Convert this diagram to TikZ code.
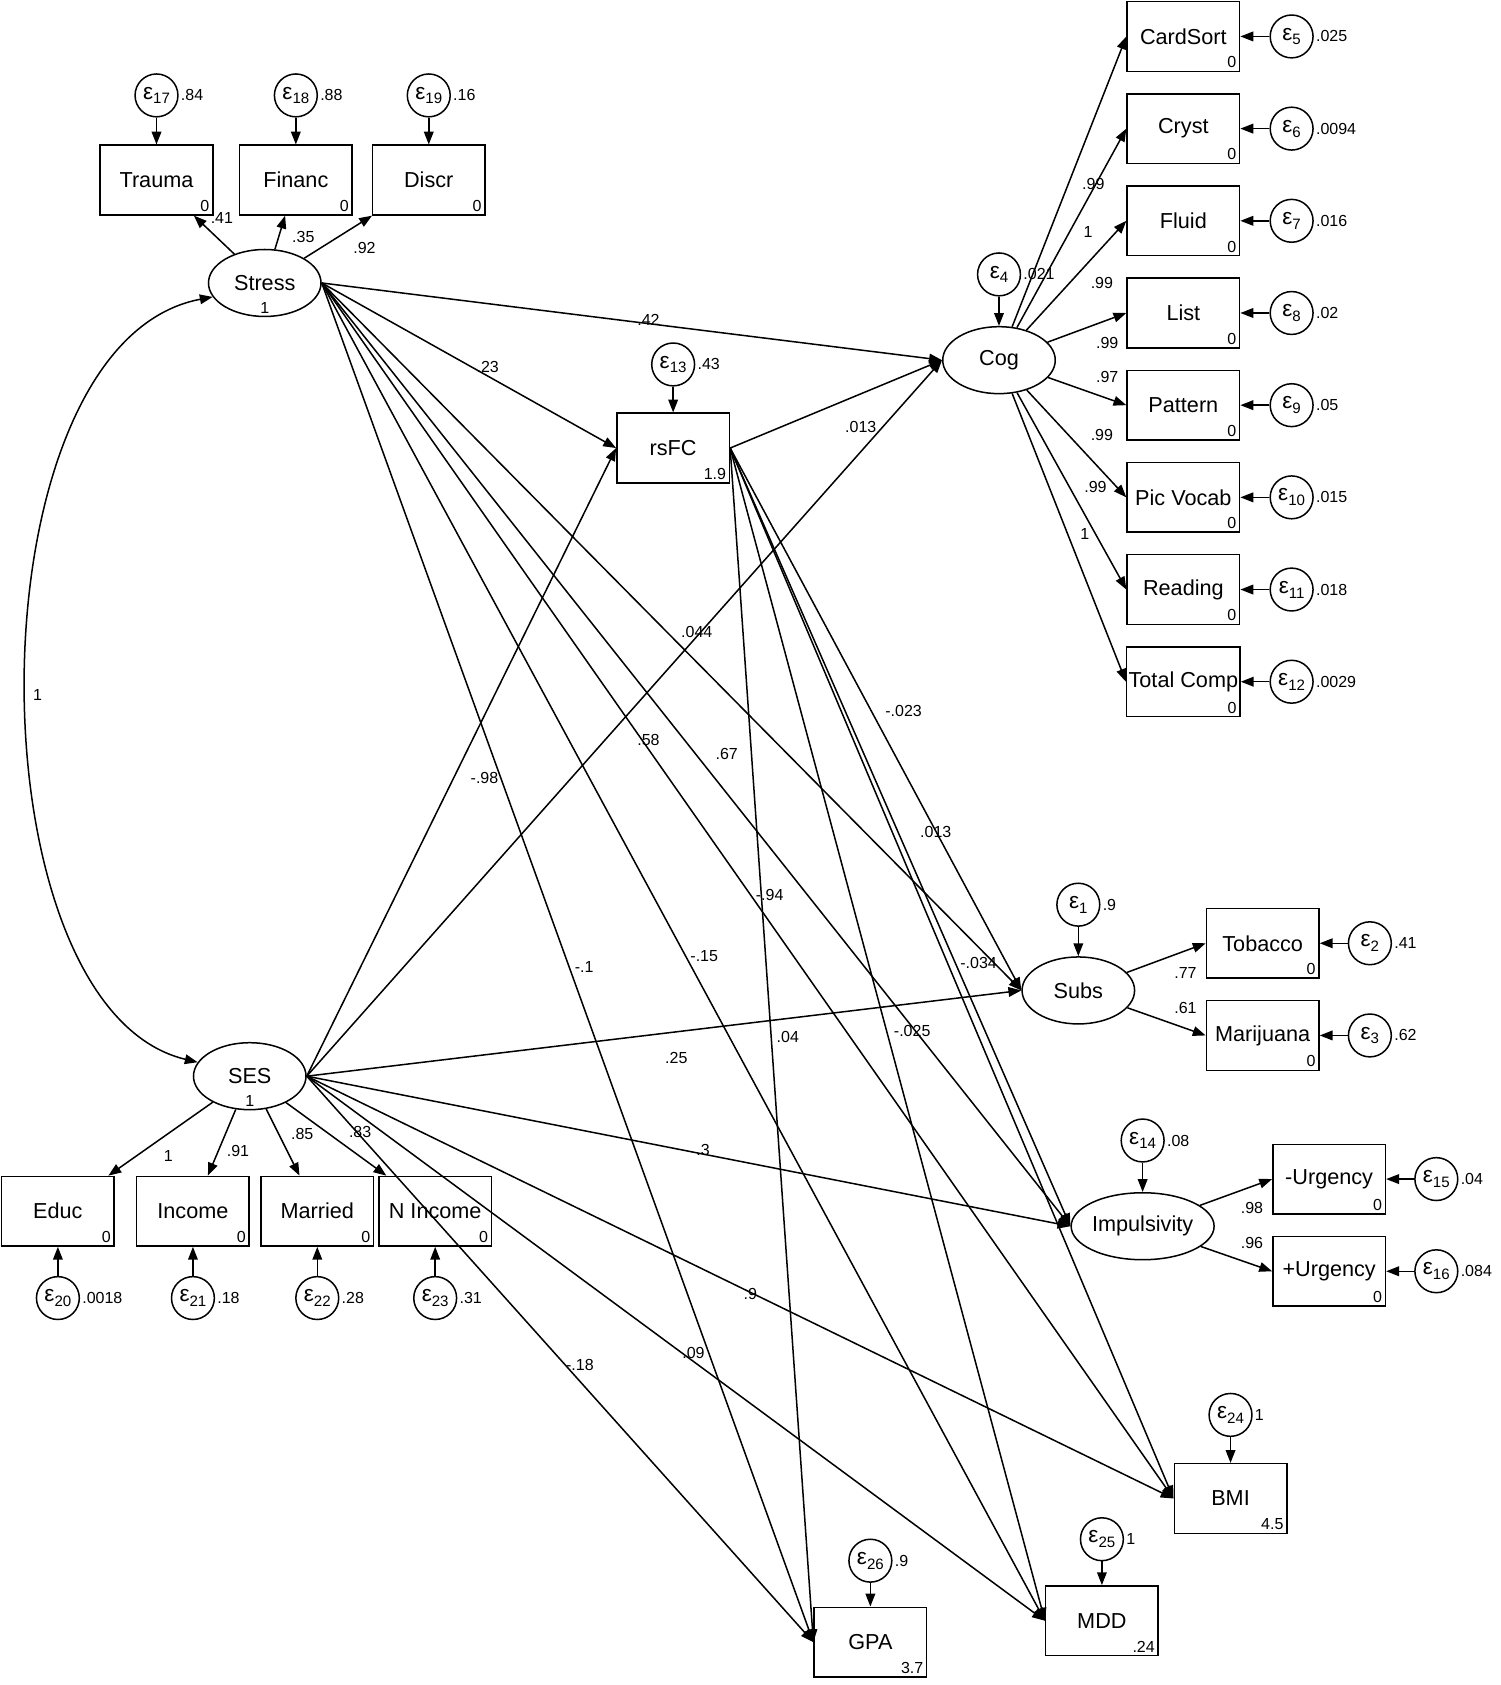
\documentclass[tikz,border=0pt]{standalone}
\usepackage{fontspec}
\setmainfont{Liberation Sans}
\usetikzlibrary{shapes.geometric, arrows.meta, positioning}
\newcommand{\eps}[1]{ε\raisebox{-0.4ex}{\fontsize{8}{8}\selectfont #1}}

\begin{document}
\begin{tikzpicture}[x=0.02cm, y=-0.02cm,
    obs/.style={rectangle, draw, thick, minimum width=2.1cm, minimum height=1.3cm, font=\fontsize{11.5}{13}\selectfont, inner sep=1pt},
    lat/.style={ellipse, draw, thick, minimum width=2.1cm, minimum height=1.25cm, font=\fontsize{11.5}{13}\selectfont, inner sep=0pt},
    errc/.style={circle, draw, thick, minimum size=0.8cm, inner sep=0pt, font=\fontsize{12}{12}\selectfont},
    icpt/.style={font=\fontsize{8.5}{9}\selectfont, inner sep=2pt},
    val/.style={font=\fontsize{8.5}{9}\selectfont, inner sep=1pt},
    path/.style={-{Triangle[length=2.4mm,width=1.8mm]}, thick}
]
\useasboundingbox (0,0) rectangle (1400,1572);

% Latent variables
\node[lat] (stress) at (247,264) {Stress};
\node[icpt, anchor=south] at (stress.south) {1};
\node[lat] (ses) at (233,1004) {SES};
\node[icpt, anchor=south] at (ses.south) {1};
\node[lat] (cog) at (932,336) {Cog};
\node[lat] (subs) at (1006,924) {Subs};
\node[lat] (imp) at (1066,1144) {Impulsivity};

% Cognition indicators
\foreach \nm/\txt/\yy/\idx/\vv in {cardsort/CardSort/34/5/.025, cryst/Cryst/120/6/.0094,
    fluid/Fluid/206/7/.016, list/List/292/8/.02, pattern/Pattern/378/9/.05,
    picvocab/Pic Vocab/464/10/.015, reading/Reading/550/11/.018, totalcomp/Total Comp/636/12/.0029} {
  \node[obs] (\nm) at (1104,\yy) {\txt};
  \node[icpt, anchor=south east] at (\nm.south east) {0};
  \node[errc, label={[val]east:\vv}] (e\idx) at (1205,\yy) {\eps{\idx}};
  \draw[path] (e\idx) -- (\nm);
  \draw[path] (cog) -- (\nm.west);
}
\node[errc, label={[val]east:.021}] (e4) at (932,256) {\eps{4}};
\draw[path] (e4) -- (cog);

% Stress indicators
\foreach \nm/\txt/\xx/\idx/\vv in {trauma/Trauma/146/17/.84, financ/Financ/276/18/.88, discr/Discr/400/19/.16} {
  \node[obs] (\nm) at (\xx,168) {\txt};
  \node[icpt, anchor=south east] at (\nm.south east) {0};
  \node[errc, label={[val]east:\vv}] (e\idx) at (\xx,89) {\eps{\idx}};
  \draw[path] (e\idx) -- (\nm);
  \draw[path] (stress) -- (\nm);
}

% SES indicators
\foreach \nm/\txt/\xx/\idx/\vv in {educ/Educ/54/20/.0018, income/Income/180/21/.18, married/Married/296/22/.28, nincome/N Income/406/23/.31} {
  \node[obs] (\nm) at (\xx,1130) {\txt};
  \node[icpt, anchor=south east] at (\nm.south east) {0};
  \node[errc, label={[val]east:\vv}] (e\idx) at (\xx,1211) {\eps{\idx}};
  \draw[path] (e\idx) -- (\nm);
  \draw[path] (ses) -- (\nm);
}

% rsFC
\node[obs] (rsfc) at (628,418) {rsFC};
\node[icpt, anchor=south east] at (rsfc.south east) {1.9};
\node[errc, label={[val]east:.43}] (e13) at (628,340) {\eps{13}};
\draw[path] (e13) -- (rsfc);

% Substance use
\node[errc, label={[val]east:.9}] (e1) at (1006,844) {\eps{1}};
\draw[path] (e1) -- (subs);
\foreach \nm/\txt/\yy/\idx/\vv in {tobacco/Tobacco/880/2/.41, marijuana/Marijuana/966/3/.62} {
  \node[obs] (\nm) at (1178,\yy) {\txt};
  \node[icpt, anchor=south east] at (\nm.south east) {0};
  \node[errc, label={[val]east:\vv}] (e\idx) at (1278,\yy) {\eps{\idx}};
  \draw[path] (e\idx) -- (\nm);
  \draw[path] (subs) -- (\nm.west);
}

% Impulsivity
\node[errc, label={[val]east:.08}] (e14) at (1066,1064) {\eps{14}};
\draw[path] (e14) -- (imp);
\foreach \nm/\txt/\yy/\idx/\vv in {negurg/-Urgency/1100/15/.04, posurg/+Urgency/1186/16/.084} {
  \node[obs] (\nm) at (1240,\yy) {\txt};
  \node[icpt, anchor=south east] at (\nm.south east) {0};
  \node[errc, label={[val]east:\vv}] (e\idx) at (1340,\yy) {\eps{\idx}};
  \draw[path] (e\idx) -- (\nm);
  \draw[path] (imp) -- (\nm.west);
}

% Outcomes
\node[obs] (bmi) at (1148,1398) {BMI};
\node[icpt, anchor=south east] at (bmi.south east) {4.5};
\node[errc, label={[val]east:1}] (e24) at (1148,1320) {\eps{24}};
\draw[path] (e24) -- (bmi);
\node[obs] (mdd) at (1028,1512) {MDD};
\node[icpt, anchor=south east] at (mdd.south east) {.24};
\node[errc, label={[val]east:1}] (e25) at (1028,1436) {\eps{25}};
\draw[path] (e25) -- (mdd);
\node[obs] (gpa) at (812,1532) {GPA};
\node[icpt, anchor=south east] at (gpa.south east) {3.7};
\node[errc, label={[val]east:.9}] (e26) at (812,1456) {\eps{26}};
\draw[path] (e26) -- (gpa);

% Structural paths
\draw[{Triangle[length=2.4mm,width=1.8mm]}-{Triangle[length=2.4mm,width=1.8mm]}, thick]
  (stress.195) .. controls (-30,320) and (-30,940) .. (ses.165);
\foreach \a/\b in {stress/cog, stress/rsfc, stress/subs, stress/imp, stress/bmi, stress/mdd, stress/gpa,
    ses/rsfc, ses/cog, ses/subs, ses/imp, ses/bmi, ses/mdd, ses/gpa,
    rsfc/cog, rsfc/subs, rsfc/imp, rsfc/bmi, rsfc/mdd, rsfc/gpa}
  \draw[path] (\a.east) -- (\b.west);

% Coefficients
\foreach \xx/\yy/\t in {207/203/.41, 283/221/.35, 340/231/.92, 35/648/1,
    605/298/.42, 455/342/.23, 803/398/.013,
    1020/172/.99, 1015/216/1, 1028/264/.99, 1033/320/.99, 1033/352/.97, 1028/406/.99, 1022/454/.99, 1012/498/1,
    1106/908/.77, 1106/940/.61, 1168/1127/.98, 1168/1160/.96,
    650/590/.044, 843/663/-.023, 873/776/.013, 718/835/-.94, 657/892/-.15, 545/902/-.1,
    913/898/-.034, 735/967/.04, 851/962/-.025, 605/690/.58, 678/703/.67, 452/726/-.98,
    631/987/.25, 656/1073/.3, 700/1207/.9, 647/1262/.09, 541/1273/-.18,
    157/1078/1, 222/1074/.91, 282/1058/.85, 336/1056/.83}
  \node[val] at (\xx,\yy) {\t};

\end{tikzpicture}
\end{document}
